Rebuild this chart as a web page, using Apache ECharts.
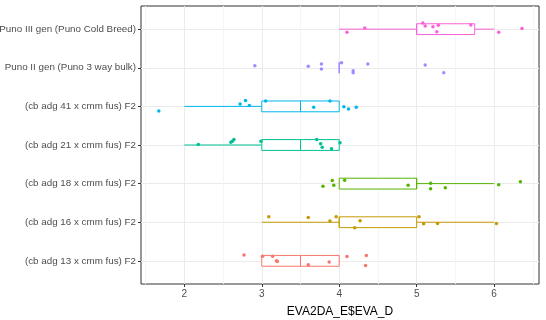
<!DOCTYPE html>
<html>
<head>
<meta charset="utf-8">
<script src="https://cdn.jsdelivr.net/npm/echarts@6/dist/echarts.min.js"></script>
<style>
  html, body { margin: 0; padding: 0; background: #fff; }
  #chart { width: 546px; height: 320px; }
</style>
</head>
<body>
<div id="chart"></div>
<script>
// groups, bottom to top
const categories = [
  "(cb adg 13 x cmm fus) F2",
  "(cb adg 16 x cmm fus) F2",
  "(cb adg 18 x cmm fus) F2",
  "(cb adg 21 x cmm fus) F2",
  "(cb adg 41 x cmm fus) F2",
  "Puno II gen (Puno 3 way bulk)",
  "Puno III gen (Puno Cold Breed)"
];
const colors = ["#F8766D", "#C49A00", "#53B400", "#00C094", "#00B6EB", "#A58AFF", "#FB61D7"];

// box stats
const boxMin = [3, 3, 4, 2, 2, 4, 4];
const boxQ1 = [3, 4, 4, 3, 3, 4, 5];
const boxMed = [3.5, 4, 5, 3.5, 3.5, 4, 5];
const boxQ3 = [4, 5, 5, 4, 4, 4, 5.75];
const boxMax = [4, 6, 6, 4, 4, 4, 6];

// jittered points [x, y]
const pts13 = [[2.77, 1.15], [3.01, 1.12], [3.14, 1.12], [3.19, 1.00], [3.20, 0.98], [3.60, 0.90], [3.87, 0.97], [4.10, 1.11], [4.35, 1.14], [4.34, 0.88]];
const pts16 = [[3.09, 2.14], [3.60, 2.12], [3.88, 2.03], [3.96, 2.14], [4.20, 1.86], [4.27, 2.04], [5.03, 2.14], [5.09, 1.96], [5.27, 1.97], [6.03, 1.97]];
const pts18 = [[3.79, 2.93], [3.91, 3.08], [3.93, 2.96], [4.07, 3.09], [4.89, 2.96], [5.18, 3.01], [5.18, 2.87], [5.37, 2.89], [6.06, 2.97], [6.34, 3.05]];
const pts21 = [[2.18, 4.01], [2.60, 4.07], [2.62, 4.10], [2.64, 4.14], [2.99, 4.10], [3.71, 4.14], [3.76, 4.03], [3.78, 3.94], [3.90, 3.90], [4.01, 4.06]];
const pts41 = [[1.67, 4.88], [2.72, 5.06], [2.79, 5.15], [2.84, 5.02], [3.05, 5.14], [3.67, 4.98], [3.88, 5.14], [4.06, 4.99], [4.12, 4.93], [4.22, 4.98]];
const ptsP2 = [[2.91, 6.05], [3.60, 6.04], [3.77, 6.10], [3.77, 5.97], [4.03, 6.13], [4.18, 5.92], [4.18, 5.87], [4.37, 6.10], [5.11, 6.07], [5.35, 5.87]];
const ptsP3 = [[4.10, 6.92], [4.33, 7.03], [5.08, 7.16], [5.11, 7.08], [5.21, 7.06], [5.26, 6.93], [5.28, 7.10], [5.70, 7.11], [6.06, 6.92], [6.36, 7.02]];
const allPts = [pts13, pts16, pts18, pts21, pts41, ptsP2, ptsP3];

const xTicks = [2, 3, 4, 5, 6];
const xMinor = [1.5, 2.5, 3.5, 4.5, 5.5, 6.5];
const yTicks = [1, 2, 3, 4, 5, 6, 7];

const chart = echarts.init(document.getElementById("chart"));

const boxData = categories.map((c, i) => [boxMin[i], boxQ1[i], boxMed[i], boxQ3[i], boxMax[i], i + 1]);

const option = {
  animation: false,
  grid: {
    left: 141, right: 7, top: 6, bottom: 36,
    outerBoundsMode: "none",
    containLabel: false,
    show: true, borderColor: "#333", borderWidth: 1, backgroundColor: "#fff"
  },
  xAxis: [
    {
      type: "value", min: 1.44, max: 6.58,
      axisLine: { show: false },
      axisTick: { show: true, length: 3, lineStyle: { color: "#333" }, customValues: xTicks },
      axisLabel: { color: "#4d4d4d", fontSize: 10, margin: 5, fontFamily: "Liberation Sans", customValues: xTicks },
      splitLine: { show: true, lineStyle: { color: "#ebebeb", width: 1 } },
      name: "EVA2DA_E$EVA_D", nameLocation: "middle", nameGap: 22,
      nameTextStyle: { color: "#000", fontSize: 12, fontFamily: "Liberation Sans" }
    },
    {
      type: "value", min: 1.44, max: 6.58, position: "bottom",
      axisLine: { show: false },
      axisTick: { show: false, customValues: xMinor },
      axisLabel: { show: false },
      splitLine: { show: true, lineStyle: { color: "#f5f5f5", width: 1 } }
    }
  ],
  yAxis: {
    type: "value", min: 0.4, max: 7.6,
    axisLine: { show: false },
    axisTick: { show: true, length: 3, lineStyle: { color: "#333" }, customValues: yTicks },
    axisLabel: {
      color: "#4d4d4d", fontSize: 9.8, margin: 5, fontFamily: "Liberation Sans",
      customValues: yTicks,
      formatter: (v) => categories[Math.round(v) - 1] || ""
    },
    splitLine: { show: true, lineStyle: { color: "#ebebeb", width: 1 } }
  },
  series: [
    {
      type: "custom",
      z: 2,
      data: boxData,
      encode: { x: [0, 1, 2, 3, 4], y: 5 },
      renderItem: function (params, api) {
        const i = params.dataIndex;
        const yv = api.value(5);
        const p = (k) => api.coord([api.value(k), yv]);
        const h = api.size([0, 0.28])[1];
        const col = colors[i];
        const lo = p(0), q1 = p(1), md = p(2), q3 = p(3), hi = p(4);
        const st = { stroke: col, lineWidth: 1, fill: null };
        return {
          type: "group",
          children: [
            { type: "line", shape: { x1: lo[0], y1: lo[1], x2: q1[0], y2: q1[1] }, style: st },
            { type: "line", shape: { x1: q3[0], y1: q3[1], x2: hi[0], y2: hi[1] }, style: st },
            { type: "rect", shape: { x: q1[0], y: q1[1] - h / 2, width: q3[0] - q1[0], height: h },
              style: { stroke: col, lineWidth: 1, fill: "#fff" } },
            { type: "line", shape: { x1: md[0], y1: md[1] - h / 2, x2: md[0], y2: md[1] + h / 2 }, style: st }
          ]
        };
      }
    }
  ].concat(allPts.map((pts, i) => ({
    type: "scatter",
    z: 3,
    data: pts,
    symbolSize: 3.5,
    itemStyle: { color: colors[i], opacity: 1 }
  })))
};

chart.setOption(option);
</script>
</body>
</html>
